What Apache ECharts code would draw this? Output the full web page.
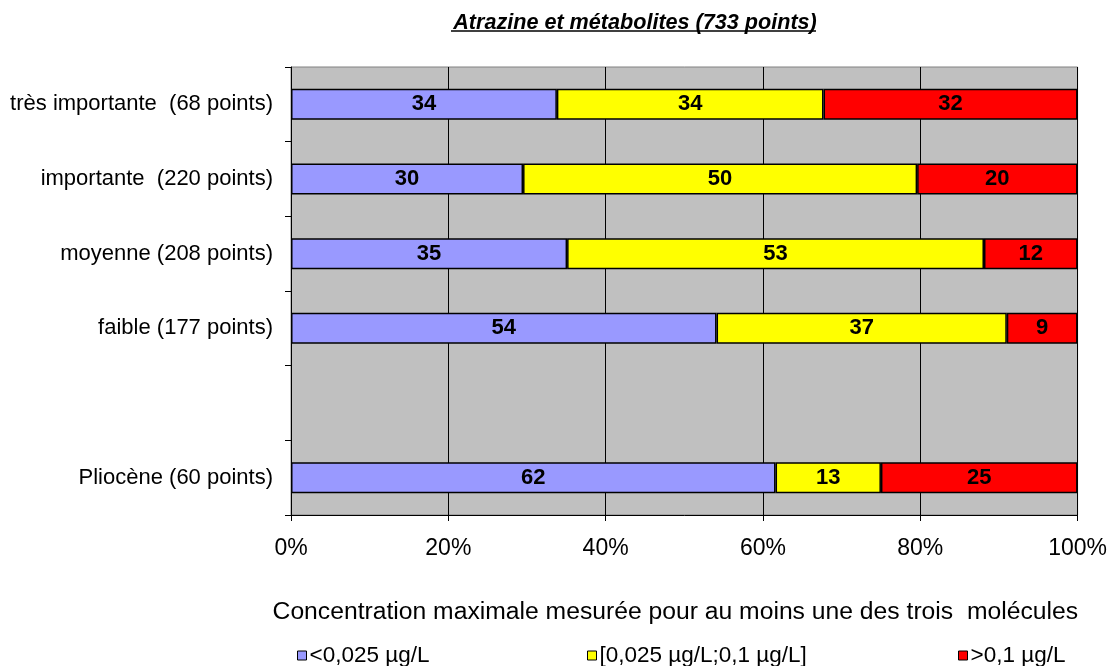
<!DOCTYPE html>
<html>
<head>
<meta charset="utf-8">
<script src="https://cdn.jsdelivr.net/npm/echarts@6/dist/echarts.min.js"></script>
<style>
  html, body { margin: 0; padding: 0; background: #fff; }
  #chart { width: 1110px; height: 666px; }
</style>
</head>
<body>
<div id="chart"></div>
<script>
// catégories (de haut en bas), la 5e est vide dans l'original
var categories = ['très importante  (68 points)', 'importante  (220 points)', 'moyenne (208 points)', 'faible (177 points)', '', 'Pliocène (60 points)'];
var seriesNames = ['<0,025 µg/L', '[0,025 µg/L;0,1 µg/L]', '>0,1 µg/L'];
// pourcentages
var basse = [33.8, 29.5, 35.1, 54.1, '-', 61.6];
var moyenne = [33.9, 50.1, 53.0, 36.9, '-', 13.4];
var haute = [32.3, 20.4, 11.9, 9.0, '-', 25.0];
var xTicks = ['0%', '20%', '40%', '60%', '80%', '100%'];
var couleurs = ['#9999ff', '#ffff00', '#ff0000'];

var FONT = '"Liberation Sans", Arial, sans-serif';

function serie(i, data) {
    return {
        name: seriesNames[i],
        type: 'bar',
        stack: 'total',
        barWidth: 31,
        data: data,
        itemStyle: { color: couleurs[i], borderColor: '#000', borderWidth: 1.5 },
        label: {
            show: true,
            position: 'inside',
            color: '#000',
            fontFamily: FONT,
            fontWeight: 'bold',
            fontSize: 22,
            formatter: function (p) { return Math.round(p.value); }
        },
        emphasis: { disabled: true },
        animation: false
    };
}

function legende(i, left) {
    return {
        data: [seriesNames[i]],
        left: left,
        top: 639,
        itemWidth: 9,
        itemHeight: 9,
        itemGap: 3,
        icon: 'rect',
        itemStyle: { borderColor: '#000', borderWidth: 1 },
        textStyle: { fontFamily: FONT, fontSize: 22.5, color: '#000', padding: [0, 0, 0, -2] },
        selectedMode: false
    };
}

var option = {
    backgroundColor: '#fff',
    title: {
        text: 'Atrazine et métabolites (733 points)',
        left: 630,
        textAlign: 'center',
        top: 7,
        textStyle: { fontFamily: FONT, fontSize: 21.6, fontWeight: 'bold', fontStyle: 'italic', color: '#000' }
    },
    graphic: [{
        type: 'line',
        shape: { x1: 451, y1: 31, x2: 816, y2: 31 },
        style: { stroke: '#000', lineWidth: 1.5 },
        silent: true
    }],
    legend: [legende(0, 292), legende(1, 582), legende(2, 953)],
    grid: {
        left: 291, right: 32, top: 67, bottom: 151,
        show: true,
        backgroundColor: '#c0c0c0',
        borderColor: '#808080',
        borderWidth: 1
    },
    xAxis: {
        type: 'value',
        min: 0,
        max: 100,
        interval: 20,
        name: 'Concentration maximale mesurée pour au moins une des trois  molécules',
        nameLocation: 'middle',
        nameGap: 85,
        nameTextStyle: { fontFamily: FONT, fontSize: 24.7, color: '#000', padding: [0, 18, 0, 0] },
        axisLine: { show: true, lineStyle: { color: '#000', width: 1 } },
        axisTick: { show: true, length: 6, inside: false, lineStyle: { color: '#000' } },
        axisLabel: {
            fontFamily: FONT, fontSize: 23, color: '#000', margin: 22,
            formatter: function (v) { return xTicks[v / 20]; }
        },
        splitLine: { show: true, lineStyle: { color: '#000', width: 1 } }
    },
    yAxis: {
        type: 'category',
        data: categories,
        inverse: true,
        axisLine: { show: true, lineStyle: { color: '#000', width: 1 } },
        axisTick: { show: true, length: 6, lineStyle: { color: '#000' } },
        axisLabel: { fontFamily: FONT, fontSize: 22, color: '#000', margin: 18 },
        splitLine: { show: false }
    },
    series: [serie(0, basse), serie(1, moyenne), serie(2, haute)]
};

var chart = echarts.init(document.getElementById('chart'), null, { renderer: 'canvas' });
chart.setOption(option);
</script>
</body>
</html>
